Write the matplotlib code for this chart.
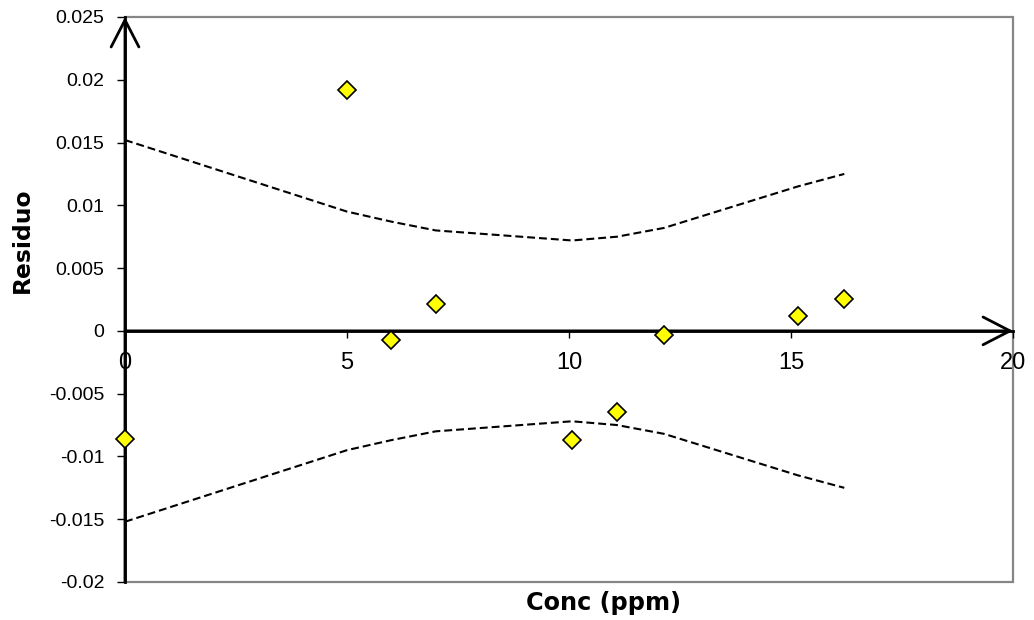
import matplotlib.pyplot as plt
from matplotlib.patches import Rectangle

# data
conc = [0, 5, 6, 7, 10.07, 11.08, 12.14, 15.15, 16.2]
residuo = [-0.0086, 0.0192, -0.0007, 0.00215, -0.0087, -0.0065, -0.0003, 0.0012, 0.0025]
band_upper = [0.0152, 0.0095, 0.0087, 0.0080, 0.0072, 0.0075, 0.0082, 0.0115, 0.0125]
band_lower = [-0.0152, -0.0095, -0.0087, -0.0080, -0.0072, -0.0075, -0.0082, -0.0115, -0.0125]

x_ticks = [0, 5, 10, 15, 20]
y_ticks = [-0.02, -0.015, -0.01, -0.005, 0, 0.005, 0.01, 0.015, 0.02, 0.025]
y_tick_labels = ['-0.02', '-0.015', '-0.01', '-0.005', '0', '0.005', '0.01', '0.015', '0.02', '0.025']

plt.rcParams['font.family'] = ['Liberation Sans', 'DejaVu Sans']

fig = plt.figure(figsize=(10.34, 6.2), dpi=100)
ax = fig.add_axes([0.1209, 0.0613, 0.9797 - 0.1209, 0.9726 - 0.0613])
ax.set_xlim(0, 20)
ax.set_ylim(-0.02, 0.025)

# gray frame
ax.add_patch(Rectangle((0, 0), 1, 1, transform=ax.transAxes, fill=False,
                       edgecolor='#868686', lw=1.6, zorder=0, clip_on=False))
ax.spines['top'].set_visible(False)
ax.spines['right'].set_visible(False)
ax.spines['left'].set_color('black')
ax.spines['left'].set_linewidth(2)
ax.spines['bottom'].set_position(('data', 0))
ax.spines['bottom'].set_color('black')
ax.spines['bottom'].set_linewidth(2)

# arrows on the axes
arrow = dict(arrowstyle='->,head_length=0.97,head_width=0.5', lw=2, color='black',
             shrinkA=0, shrinkB=0, mutation_scale=20)
ax.annotate('', xy=(0, 0.025), xytext=(0, -0.02), arrowprops=arrow, annotation_clip=False)
ax.annotate('', xy=(20, 0), xytext=(0, 0), arrowprops=arrow, annotation_clip=False)

# confidence bands
ax.plot(conc, band_upper, color='black', lw=1.5, linestyle=(0, (3.8, 1.9)), zorder=3)
ax.plot(conc, band_lower, color='black', lw=1.5, linestyle=(0, (3.8, 1.9)), zorder=3)

# residuals
ax.plot(conc, residuo, linestyle='none', marker='D', markersize=9.5,
        markerfacecolor='#FFFF00', markeredgecolor='black', markeredgewidth=1.2,
        zorder=5, clip_on=False)

ax.set_xticks(x_ticks)
ax.set_xticklabels([str(t) for t in x_ticks])
ax.set_yticks(y_ticks)
ax.set_yticklabels(y_tick_labels)
ax.tick_params(axis='x', direction='out', length=5, width=1, pad=10, labelsize=17)
ax.tick_params(axis='y', direction='out', length=6, width=1, pad=9, labelsize=14)

fig.text(0.584, 0.028, 'Conc (ppm)', family='DejaVu Sans', fontweight='bold',
         fontsize=17.3, ha='center', va='center')
fig.text(0.0213, 0.613, 'Residuo', family='DejaVu Sans', fontweight='bold',
         fontsize=16.8, ha='center', va='center', rotation=90)

fig.savefig('out.png', dpi=100)
